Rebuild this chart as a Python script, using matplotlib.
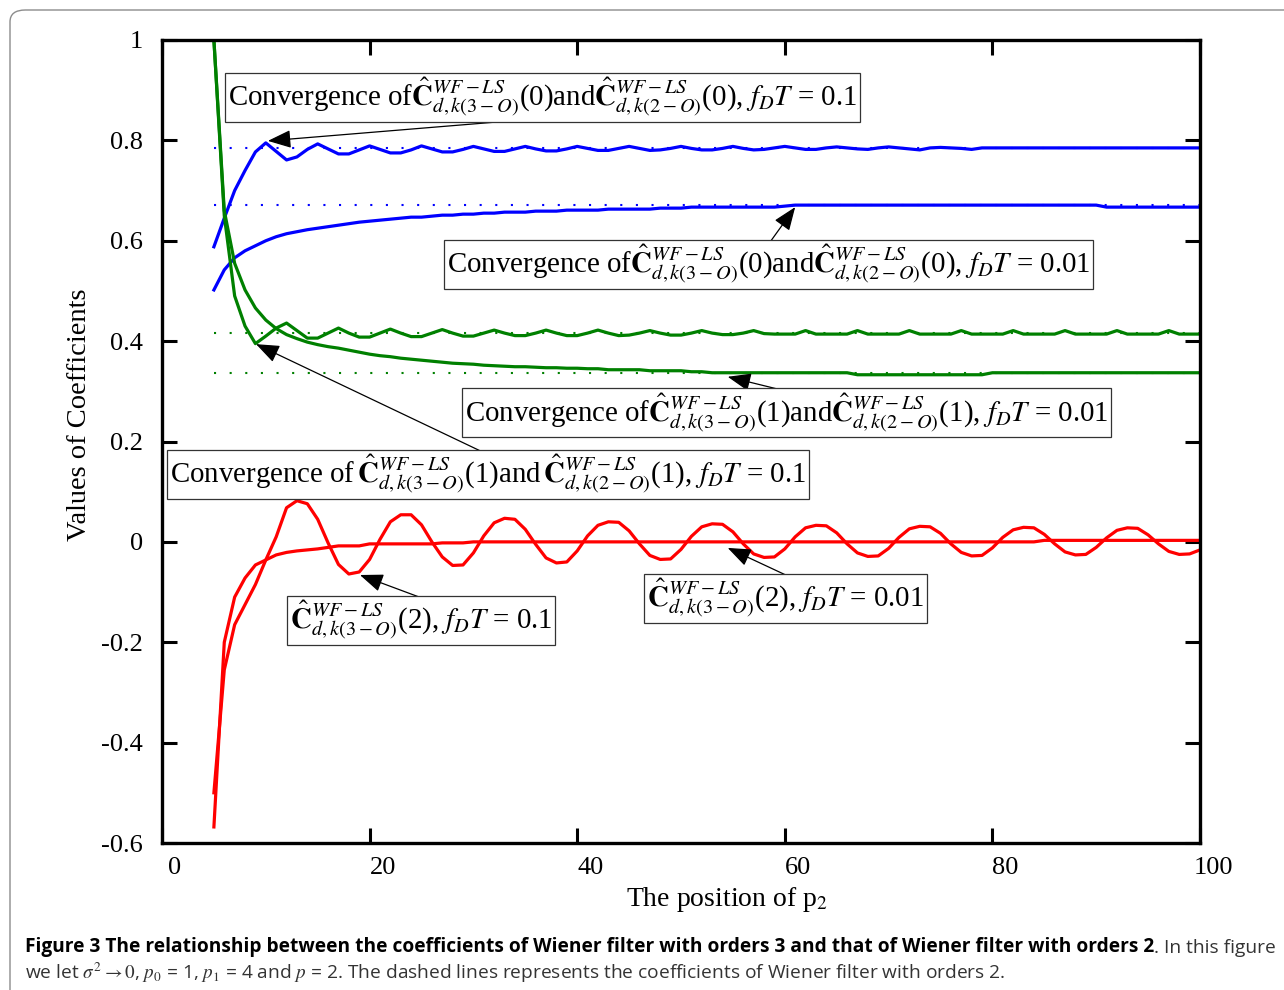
import matplotlib
matplotlib.use('Agg')
import matplotlib.pyplot as plt
import numpy as np
from matplotlib.patches import FancyBboxPatch
from matplotlib.transforms import ScaledTranslation
from matplotlib import font_manager

plt.rcParams['font.family'] = ['Liberation Serif', 'DejaVu Serif']
plt.rcParams['mathtext.fontset'] = 'stix'

# ---------------- data ----------------
x = np.arange(5, 101)

blue_01 = [0.588, 0.645, 0.700, 0.740, 0.777, 0.795, 0.778, 0.761, 0.767, 0.782,
           0.793, 0.783, 0.773, 0.773, 0.781, 0.789, 0.782, 0.775, 0.775, 0.781,
           0.789, 0.783, 0.777, 0.777, 0.782, 0.788, 0.783, 0.778, 0.778, 0.783,
           0.788, 0.783, 0.779, 0.779, 0.783, 0.788, 0.784, 0.780, 0.780, 0.784,
           0.788, 0.784, 0.780, 0.781, 0.784, 0.788, 0.784, 0.781, 0.781, 0.784,
           0.788, 0.784, 0.781, 0.782, 0.785, 0.788, 0.785, 0.782, 0.782, 0.785,
           0.787, 0.785, 0.783, 0.782, 0.785, 0.787, 0.785, 0.783, 0.781, 0.785,
           0.786, 0.785, 0.784, 0.782, 0.785,
           0.785, 0.785, 0.785, 0.785, 0.785, 0.785, 0.785, 0.785, 0.785, 0.785,
           0.785, 0.785, 0.785, 0.785, 0.785, 0.785, 0.785, 0.785, 0.785, 0.785, 0.785]

blue_001 = [0.502, 0.542, 0.566, 0.580, 0.590, 0.600, 0.608, 0.614, 0.618, 0.622,
            0.625, 0.628, 0.631, 0.634, 0.637, 0.639, 0.641, 0.643, 0.645, 0.647,
            0.647, 0.649, 0.651, 0.651, 0.653, 0.653, 0.655, 0.655, 0.657, 0.657,
            0.657, 0.659, 0.659, 0.659, 0.661, 0.661, 0.661, 0.661, 0.663, 0.663,
            0.663, 0.663, 0.663, 0.665, 0.665, 0.665, 0.667, 0.667, 0.667, 0.667,
            0.667, 0.667, 0.667, 0.667, 0.667, 0.669,
            0.671, 0.671, 0.671, 0.671, 0.671, 0.671, 0.671, 0.671, 0.671, 0.671,
            0.671, 0.671, 0.671, 0.671, 0.671, 0.671, 0.671, 0.671, 0.671, 0.671,
            0.671, 0.671, 0.671, 0.671, 0.671, 0.671, 0.671, 0.671, 0.671, 0.671,
            0.667, 0.667, 0.667, 0.667, 0.667, 0.667, 0.667, 0.667, 0.667, 0.667]

green_01 = [1.000, 0.650, 0.490, 0.430, 0.395, 0.410, 0.426, 0.436, 0.421, 0.406,
            0.406, 0.416, 0.426, 0.416, 0.408, 0.408, 0.416, 0.424, 0.416, 0.409,
            0.409, 0.416, 0.423, 0.416, 0.410, 0.410, 0.416, 0.422, 0.416, 0.411,
            0.411, 0.416, 0.422, 0.416, 0.411, 0.411, 0.416, 0.422, 0.416, 0.411,
            0.412, 0.416, 0.421, 0.416, 0.412, 0.412, 0.416, 0.421, 0.416, 0.413,
            0.413, 0.416, 0.421, 0.415, 0.414, 0.414, 0.414, 0.421, 0.414, 0.414,
            0.414, 0.414, 0.421, 0.414, 0.414, 0.414, 0.414, 0.421, 0.414, 0.414,
            0.414, 0.414, 0.421, 0.414, 0.414, 0.414, 0.414, 0.421, 0.414, 0.414,
            0.414, 0.414, 0.421, 0.414, 0.414, 0.414, 0.414, 0.421, 0.414, 0.414,
            0.414, 0.414, 0.421, 0.414, 0.414, 0.414]

green_001 = [1.000, 0.660, 0.555, 0.502, 0.466, 0.442, 0.425, 0.413, 0.405, 0.398,
             0.393, 0.389, 0.386, 0.382, 0.378, 0.374, 0.371, 0.369, 0.366, 0.364,
             0.362, 0.360, 0.358, 0.356, 0.355, 0.354, 0.352, 0.351, 0.350, 0.349,
             0.349, 0.348, 0.347, 0.347, 0.346, 0.346, 0.345, 0.345, 0.343, 0.343,
             0.343, 0.343, 0.341, 0.341, 0.341, 0.341, 0.339, 0.339,
             0.337, 0.337, 0.337, 0.337, 0.337, 0.337, 0.337, 0.337, 0.337, 0.337,
             0.337, 0.337, 0.337, 0.337,
             0.333, 0.333, 0.333, 0.333, 0.333, 0.333, 0.333, 0.333, 0.333, 0.333,
             0.333, 0.333, 0.333,
             0.337, 0.337, 0.337, 0.337, 0.337, 0.337, 0.337, 0.337, 0.337, 0.337,
             0.337, 0.337, 0.337, 0.337, 0.337, 0.337, 0.337, 0.337, 0.337, 0.337, 0.337]

red_01 = [-0.500, -0.255, -0.165, -0.125, -0.085, -0.036, 0.010, 0.068, 0.082, 0.076,
          0.045, -0.002, -0.045, -0.064, -0.060, -0.035, 0.005, 0.040, 0.054, 0.054,
          0.034, 0.000, -0.030, -0.047, -0.046, -0.022, 0.012, 0.038, 0.047, 0.045,
          0.025, -0.005, -0.032, -0.042, -0.040, -0.018, 0.012, 0.033, 0.040, 0.039,
          0.022, -0.004, -0.027, -0.035, -0.034, -0.015, 0.011, 0.030, 0.036, 0.035,
          0.020, -0.004, -0.024, -0.031, -0.030, -0.014, 0.010, 0.028, 0.033, 0.032,
          0.018, -0.004, -0.022, -0.029, -0.028, -0.013, 0.009, 0.026, 0.031, 0.030,
          0.017, -0.004, -0.021, -0.028, -0.027, -0.012, 0.009, 0.024, 0.029, 0.028,
          0.015, -0.004, -0.020, -0.026, -0.025, -0.011, 0.008, 0.023, 0.028, 0.027,
          0.014, -0.004, -0.019, -0.025, -0.024, -0.016]

red_001 = [-0.568, -0.200, -0.110, -0.072, -0.046, -0.036, -0.026, -0.021, -0.018, -0.016,
           -0.014, -0.011, -0.008, -0.008, -0.008, -0.004, -0.004, -0.004, -0.004, -0.004,
           -0.004, -0.004, -0.002, -0.002, -0.002,
           0.000, 0.000, 0.000, 0.000, 0.000, 0.000, 0.000, 0.000, 0.000, 0.000,
           0.000, 0.000, 0.000, 0.000, 0.000, 0.000, 0.000, 0.000, 0.000, 0.000,
           0.000, 0.000, 0.000, 0.000, 0.000, 0.000, 0.000, 0.000, 0.000, 0.000,
           0.000, 0.000, 0.000, 0.000, 0.000, 0.000, 0.000, 0.000, 0.000, 0.000,
           0.000, 0.000, 0.000, 0.000, 0.000, 0.000, 0.000, 0.000, 0.000, 0.000,
           0.000, 0.000, 0.000, 0.000, 0.000,
           0.003, 0.003, 0.003, 0.003, 0.003, 0.003, 0.003, 0.003, 0.003, 0.003,
           0.003, 0.003, 0.003, 0.003, 0.003, 0.003]

# order-2 reference values (dotted lines)
ref_blue_01 = 0.785
ref_blue_001 = 0.671
ref_green_01 = 0.416
ref_green_001 = 0.337

yticks = [-0.6, -0.4, -0.2, 0, 0.2, 0.4, 0.6, 0.8, 1.0]
ytick_labels = ['-0.6', '-0.4', '-0.2', '0', '0.2', '0.4', '0.6', '0.8', '1']
xticks = [0, 20, 40, 60, 80, 100]
xtick_labels = ['0', '20', '40', '60', '80', '100']

BLUE = '#0000ff'
GREEN = '#008000'
RED = '#ff0000'

# ---------------- figure ----------------
W, H = 1284, 990
fig = plt.figure(figsize=(W / 100, H / 100), dpi=100)

frame = FancyBboxPatch((10 / W, -30 / H), (W + 30) / W, (H - 10 + 30) / H,
                       boxstyle='round,pad=0,rounding_size=0.012',
                       transform=fig.transFigure, fc='none', ec='#8c8c8c', lw=1.0,
                       clip_on=False)
fig.patches.append(frame)

ax = fig.add_axes([162 / W, 1 - 843 / H, (1200 - 162) / W, (843 - 40) / H])

dot_style = dict(lw=1.5, linestyle=(0, (1, 6.5)))
xr = [x[0], x[-1]]
ax.plot(xr, [ref_blue_01] * 2, color=BLUE, **dot_style)
ax.plot(xr, [ref_blue_001] * 2, color=BLUE, **dot_style)
ax.plot(xr, [ref_green_01] * 2, color=GREEN, **dot_style)
ax.plot(xr, [ref_green_001] * 2, color=GREEN, **dot_style)

lw = 2.3
ax.plot(x, blue_01, color=BLUE, lw=lw)
ax.plot(x, blue_001, color=BLUE, lw=lw)
ax.plot(x, green_01, color=GREEN, lw=lw)
ax.plot(x, green_001, color=GREEN, lw=lw)
ax.plot(x, red_01, color=RED, lw=lw)
ax.plot(x, red_001, color=RED, lw=lw)

ax.set_xlim(0, 100)
ax.set_ylim(-0.6, 1.0)
ax.set_xticks(xticks)
ax.set_xticklabels(xtick_labels)
ax.set_yticks(yticks)
ax.set_yticklabels(ytick_labels)
for s in ax.spines.values():
    s.set_linewidth(2.4)
ax.tick_params(axis='both', direction='in', length=11, width=2.2, top=True, right=True,
               labelsize=19)
ax.tick_params(axis='y', pad=13.5)
ax.tick_params(axis='x', pad=10)
off = ScaledTranslation(13 / 100, 0, fig.dpi_scale_trans)
for lab in ax.get_xticklabels():
    lab.set_transform(lab.get_transform() + off)

ax.set_xlabel(r'The position of p$_{2}$', fontsize=20)
ax.xaxis.set_label_coords((727 - 162) / 1038, (843 - 900) / 803)
ax.xaxis.label.set_va('center')
ax.set_ylabel('Values of Coefficients', fontsize=20.5)
ax.yaxis.label.set_va('center')
ax.yaxis.set_label_coords((80 - 162) / 1038, (843 - 415) / 803)

# ---------------- annotations ----------------
C3 = r'$\hat{\mathbf{C}}^{WF-LS}_{d,k(3-O)}$'
C2 = r'$\hat{\mathbf{C}}^{WF-LS}_{d,k(2-O)}$'
C3s = r'$\,\hat{\mathbf{C}}^{WF-LS}_{d,k(3-O)}$'
C2s = r'$\,\hat{\mathbf{C}}^{WF-LS}_{d,k(2-O)}$'
box = dict(boxstyle='square,pad=0.1', fc='white', ec='#333333', lw=0.9)
tfs = 20.8

texts = [
    ('Convergence of' + C3 + '(0)and' + C2 + r'(0), $f_DT$ = 0.1', 6.36, 0.886),
    ('Convergence of' + C3 + '(0)and' + C2 + r'(0), $f_DT$ = 0.01', 27.46, 0.553),
    ('Convergence of' + C3 + '(1)and' + C2 + r'(1), $f_DT$ = 0.01', 29.2, 0.257),
    ('Convergence of' + C3s + '(1)and' + C2s + r'(1), $f_DT$ = 0.1', 0.77, 0.134),
    (C3 + r'(2), $f_DT$ = 0.1', 12.33, -0.156),
    (C3 + r'(2), $f_DT$ = 0.01', 46.7, -0.112),
]
for s, tx, ty in texts:
    ax.text(tx, ty, s, fontsize=tfs, ha='left', va='center', bbox=box, zorder=5)

arrows = [
    ((37.2, 0.845), (10.2, 0.799)),
    ((58.6, 0.598), (61.0, 0.667)),
    ((60.0, 0.301), (54.5, 0.329)),
    ((31.1, 0.177), (9.06, 0.394)),
    ((25.05, -0.112), (19.07, -0.066)),
    ((60.3, -0.068), (54.5, -0.012)),
]
for tail, tip in arrows:
    ax.annotate('', xy=tip, xytext=tail,
                arrowprops=dict(arrowstyle='-|>,head_length=0.9,head_width=0.35',
                                color='black', lw=0.9, shrinkA=0, shrinkB=0,
                                mutation_scale=16),
                zorder=4)

# ---------------- caption ----------------
names = {f.name for f in font_manager.fontManager.ttflist}
cap_font = 'Liberation Sans Narrow' if 'Liberation Sans Narrow' in names else 'Open Sans'
cfs = 13.8
t1 = fig.text(25 / W, 1 - 947 / H,
              'Figure 3 The relationship between the coefficients of Wiener filter with orders 3 '
              'and that of Wiener filter with orders 2',
              family=cap_font, weight='bold', fontsize=cfs, va='center', ha='left')
ax.annotate('. In this figure', xy=(1, 0), xycoords=t1, va='bottom', ha='left',
            family=cap_font, fontsize=cfs, color='#333333', annotation_clip=False)
fig.text(25 / W, 1 - 973 / H,
         r'we let $\sigma^2 \rightarrow 0$, $p_0$ = 1, $p_1$ = 4 and $p$ = 2. The dashed lines '
         'represents the coefficients of Wiener filter with orders 2.',
         family=cap_font, fontsize=cfs, va='center', ha='left', color='#333333')

fig.savefig('out.png', dpi=100)
